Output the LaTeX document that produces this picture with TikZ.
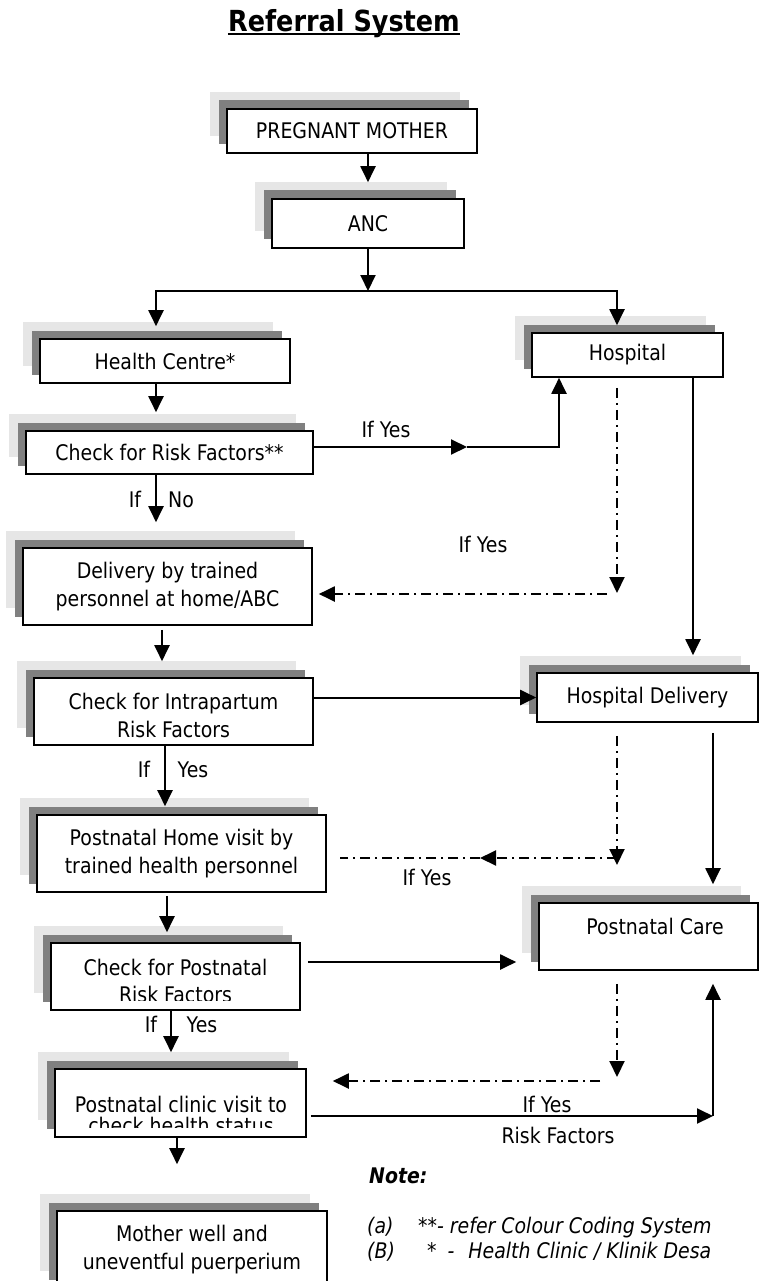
\documentclass[tikz,border=0pt]{standalone}
\usepackage{fontspec}
\setmainfont{DejaVu Sans}[FakeStretch=0.88]
\usetikzlibrary{arrows.meta,shadows}
\definecolor{lightsh}{HTML}{E6E6E6}
\definecolor{darksh}{HTML}{808080}
\newcommand\basefont{\fontsize{21.5}{28}\selectfont}
\tikzset{
  shbox/.style={draw=black, line width=1.6pt, fill=white, inner sep=2pt, align=center,
    general shadow={fill=lightsh, draw=none, shadow xshift=-17pt, shadow yshift=17pt},
    general shadow={fill=darksh, draw=none, shadow xshift=-8.5pt, shadow yshift=8.5pt}},
  lbl/.style={inner sep=0pt, anchor=base},
  nte/.style={inner sep=0pt, anchor=base west, font=\basefont\itshape},
  arr/.style={line width=2pt, -{Triangle[length=16pt,width=15pt]}},
  dd/.style={line width=2pt, dash pattern=on 10pt off 5pt on 2pt off 5pt}
}
\begin{document}
\begin{tikzpicture}[x=1pt,y=-1pt,font=\basefont]
\useasboundingbox (0,0) rectangle (760,1281);
\fill[white] (0,0) rectangle (760,1281);
\clip (0,0) rectangle (760,1281);

% title
\node[lbl, font=\fontsize{29}{35}\selectfont\bfseries] (title) at (344,32) {Referral System};
\draw[line width=2.5pt] ([yshift=-2pt]title.base west) -- ([yshift=-2pt]title.base east);

% boxes
\node[shbox, minimum width=250pt, minimum height=44pt] (pm) at (352,131) {PREGNANT MOTHER};
\node[shbox, minimum width=192pt, minimum height=49pt] (anc) at (368,223.5) {ANC};
\node[shbox, minimum width=250pt, minimum height=44pt] (hc) at (165,361) {Health Centre*};
\node[shbox, minimum width=287pt, minimum height=43pt] (crf) at (169.5,452.5) {Check for Risk Factors**};
\node[shbox, minimum width=191pt, minimum height=44pt] (hosp) at (627.5,355) {Hospital};
\node[shbox, minimum width=289pt, minimum height=77pt] (dtp) at (167.5,586.5) {Delivery by trained\\personnel at home/ABC};
\node[shbox, minimum width=279pt, minimum height=67pt] (cir) at (173.5,711.5) {};
\node[lbl] (cir1) at (173.5,709) {Check for Intrapartum};
\node[lbl] (cir2) at (173.5,737) {Risk Factors};
\node[shbox, minimum width=221pt, minimum height=49pt] (hd) at (647.5,697.5) {Hospital Delivery};
\node[shbox, minimum width=289pt, minimum height=77pt] (phv) at (181.5,853.5) {Postnatal Home visit by\\trained health personnel};
\node[shbox, minimum width=219pt, minimum height=67pt] (pc) at (648.5,936.5) {};
\node[lbl] (pct) at (655,934) {Postnatal Care};
\node[shbox, minimum width=249pt, minimum height=67pt] (cpr) at (175.5,976.5) {};
\begin{scope}
  \clip (51,943) rectangle (300,1000);
  \node[lbl] (cpr1) at (175.5,975) {Check for Postnatal};
  \node[lbl] (cpr2) at (175.5,1002) {Risk Factors};
\end{scope}
\node[shbox, minimum width=251pt, minimum height=68pt] (pcv) at (180.5,1103) {};
\begin{scope}
  \clip (55,1069) rectangle (306,1127);
  \node[lbl] (pcv1) at (181,1112) {Postnatal clinic visit to};
  \node[lbl] (pcv2) at (181,1133) {check health status};
\end{scope}
\node[shbox, minimum width=270pt, minimum height=77pt] (mw) at (192,1249.5) {Mother well and\\uneventful puerperium};

% solid connectors
\draw[arr] (anc.north |- pm.south) -- ([yshift=16pt]anc.north);
\coordinate (split) at (368,291);
\draw[arr] (anc.south) -- (split);
\draw[arr] (split) -| ([xshift=-9pt,yshift=12pt]hc.north);
\draw[arr] (split) -| ([xshift=-10.5pt,yshift=7pt]hosp.north);
\draw[arr] ([xshift=-9pt]hc.south) -- ([xshift=-13.5pt,yshift=18pt]crf.north);
\coordinate (ymid) at (467,447);
\draw[arr] ([yshift=5.5pt]crf.east) -- (ymid);
\draw[arr] (ymid) -- (559,447) -- ([xshift=-68.5pt]hosp.south);
\draw[arr] ([xshift=65.5pt]hosp.south) -- ([xshift=45.5pt,yshift=17pt]hd.north);
\draw[arr] ([xshift=-13.5pt]crf.south) -- ([xshift=-11.5pt,yshift=25pt]dtp.north);
\draw[arr] ([xshift=-5.5pt,yshift=-4pt]dtp.south) -- ([xshift=-11.5pt,yshift=16pt]cir.north);
\draw[arr] (cir.east |- hd.west) -- (hd.west);
\draw[arr] ([xshift=-8.5pt]cir.south) -- ([xshift=-16.5pt,yshift=8pt]phv.north);
\draw[arr] ([xshift=65.5pt,yshift=-10pt]hd.south) -- ([xshift=64.5pt,yshift=18pt]pc.north);
\draw[arr] ([xshift=-14.5pt,yshift=-3pt]phv.south) -- ([xshift=-8.5pt,yshift=10pt]cpr.north);
\draw[arr] ([xshift=7pt,yshift=14.5pt]cpr.east) -- ([xshift=-22pt,yshift=-25.5pt]pc.west);
\draw[arr] ([xshift=-4.5pt]cpr.south) -- ([xshift=-9.5pt,yshift=16pt]pcv.north);
\coordinate (pcin) at (713,1116);
\draw[arr] ([xshift=4pt,yshift=-13pt]pcv.east) -- (pcin);
\draw[arr] (pcin) -- ([xshift=64.5pt,yshift=-13pt]pc.south);
\draw[arr] ([xshift=-3.5pt]pcv.south) -- ([xshift=-15pt,yshift=46pt]mw.north);

% dash-dot connectors
\coordinate (c1) at (617,593);
\draw[dd,arr] ([xshift=-10.5pt,yshift=-10pt]hosp.south) -- (c1);
\draw[dd,arr] (607,594) -- ([xshift=6pt,yshift=-7.5pt]dtp.east);
\coordinate (c2) at (617,865);
\draw[dd,arr] ([xshift=-30.5pt,yshift=-13pt]hd.south) -- (c2);
\coordinate (c3) at (480,858);
\draw[dd,arr] (617,858) -- (c3);
\draw[dd] (c3) -- ([xshift=13pt,yshift=-4.5pt]phv.east);
\coordinate (c4) at (617,1077);
\draw[dd,arr] ([xshift=-31.5pt,yshift=-13pt]pc.south) -- (c4);
\draw[dd,arr] (600,1081) -- ([xshift=26pt,yshift=22pt]pcv.east);

% labels
\node[lbl] (l1) at (386,437) {If Yes};
\node[lbl] (l2) at (483,552) {If Yes};
\node[lbl] (l3a) at (135,507) {If};
\node[lbl] (l3b) at (181,507) {No};
\node[lbl] (l4a) at (144,777) {If};
\node[lbl] (l4b) at (193,777) {Yes};
\node[lbl] (l5) at (427,885) {If Yes};
\node[lbl] (l6a) at (151,1032) {If};
\node[lbl] (l6b) at (202,1032) {Yes};
\node[lbl] (l7) at (547,1112) {If Yes};
\node[lbl] (l8) at (558,1143) {Risk Factors};

% notes
\node[nte, font=\basefont\bfseries\itshape] (n0) at (369,1183) {Note:};
\node[nte] (na) at (367,1233) {(a)};
\node[nte] (na2) at (418,1233) {**- refer Colour Coding System};
\node[nte] (nb) at (367,1258) {(B)};
\node[nte] (nb2) at (427,1258) {*\hspace{11pt}-\hspace{14pt}Health Clinic / Klinik Desa};
\end{tikzpicture}
\end{document}
